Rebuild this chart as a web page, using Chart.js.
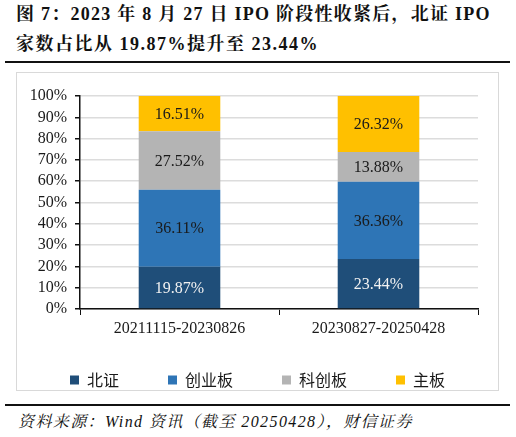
<!DOCTYPE html>
<html><head><meta charset="utf-8">
<script src="https://cdn.jsdelivr.net/npm/chart.js@4.4.1/dist/chart.umd.min.js"></script>
<style>
html,body{margin:0;padding:0;background:#fff;width:516px;height:437px;overflow:hidden;}
.t{position:absolute;left:16px;white-space:nowrap;font-family:"Liberation Serif","Noto Serif CJK SC",serif;font-weight:bold;font-size:18px;line-height:24px;color:#111;}
#t1{top:2px;letter-spacing:1.25px;}
#t2{top:32px;letter-spacing:1.5px;}
#rule1{position:absolute;left:5px;top:61px;width:505px;height:2px;background:#111;}
#box{position:absolute;left:16px;top:72px;width:481px;height:317px;border:1px solid #d9d9d9;}
#c{position:absolute;left:17px;top:73px;}
#rule2{position:absolute;left:5px;top:404px;width:505px;height:2px;background:#111;}
#src{position:absolute;left:18px;top:411px;white-space:nowrap;font-family:"Liberation Serif","Noto Serif CJK SC",serif;font-style:italic;font-size:16px;line-height:22px;color:#111;letter-spacing:1.4px;}
</style></head><body>
<div id="t1" class="t">图 7：2023 年 8 月 27 日 IPO 阶段性收紧后，北证 IPO</div>
<div id="t2" class="t">家数占比从 19.87%提升至 23.44%</div>
<div id="rule1"></div>
<div id="box"></div>
<canvas id="c" width="481" height="325"></canvas>
<div id="rule2"></div>
<div id="src">资料来源：Wind 资讯（截至 20250428），财信证券</div>
<script>
const categories = ["20211115-20230826", "20230827-20250428"];
const seriesNames = ["北证", "创业板", "科创板", "主板"];
const beizheng = [19.87, 23.44];
const chuangye = [36.11, 36.36];
const kechuang = [27.52, 13.88];
const zhuban = [16.51, 26.32];
const yTicks = [0,10,20,30,40,50,60,70,80,90,100];
const colors = ["#1F4E79", "#2E75B6", "#B4B4B4", "#FFC000"];
const labelColors = ["#f2f2f2", "#1a1a1a", "#1a1a1a", "#1a1a1a"];

const serif = '"Liberation Serif", "Times New Roman", serif';
const sans = '"Noto Sans CJK SC", "Noto Sans", sans-serif';

const labelPlugin = {
  id: 'barLabels',
  afterDatasetsDraw(chart) {
    const ctx = chart.ctx;
    ctx.save();
    ctx.font = '16px ' + serif;
    ctx.textAlign = 'center';
    ctx.textBaseline = 'middle';
    chart.data.datasets.forEach((ds, i) => {
      const meta = chart.getDatasetMeta(i);
      meta.data.forEach((bar, j) => {
        const p = bar.getProps(['x','y','base'], true);
        ctx.fillStyle = labelColors[i];
        ctx.fillText(ds.data[j].toFixed(2) + '%', p.x, (p.y + p.base) / 2 + 1);
      });
    });
    ctx.restore();
  }
};

new Chart(document.getElementById('c'), {
  type: 'bar',
  data: {
    labels: categories,
    datasets: [beizheng, chuangye, kechuang, zhuban].map((d, i) => ({
      label: seriesNames[i], data: d, backgroundColor: colors[i],
      barPercentage: 0.82, categoryPercentage: 0.5, borderWidth: 0
    }))
  },
  options: {
    responsive: false, animation: false,
    layout: { padding: { left: 0, right: 0, top: 23, bottom: 0 } },
    plugins: {
      legend: {
        position: 'bottom',
        labels: { font: { family: sans, size: 16 }, color: '#1a1a1a', boxWidth: 9, boxHeight: 9, padding: 49 },
        align: 'center'
      },
      tooltip: { enabled: false }
    },
    scales: {
      x: {
        stacked: true,
        afterFit(s) { s.height = 14; s._computeLabelArea = () => undefined; },
        grid: { drawOnChartArea: false, tickLength: 6, tickColor: '#111', offset: true },
        border: { color: '#111', width: 1.5 },
        ticks: { font: { family: serif, size: 16 }, color: '#1a1a1a', padding: 4 }
      },
      y: {
        stacked: true, min: 0, max: 100,
        afterBuildTicks(s) { s.ticks = yTicks.map(v => ({ value: v })); },
        afterFit(s) { s.width = 63; },
        grid: { color: '#dcdcdc', tickLength: 5, tickColor: '#111', lineWidth: 1.5 },
        border: { color: '#111', width: 1.5 },
        ticks: { autoSkip: false, font: { family: serif, size: 16 }, color: '#1a1a1a', padding: 8, callback: v => v + '%' }
      },
      yr: {
        position: 'right', min: 0, max: 100,
        afterFit(s) { s.width = 20; },
        grid: { display: false }, border: { display: false }, ticks: { display: false }
      }
    }
  },
  plugins: [labelPlugin]
});
</script>
</body></html>
